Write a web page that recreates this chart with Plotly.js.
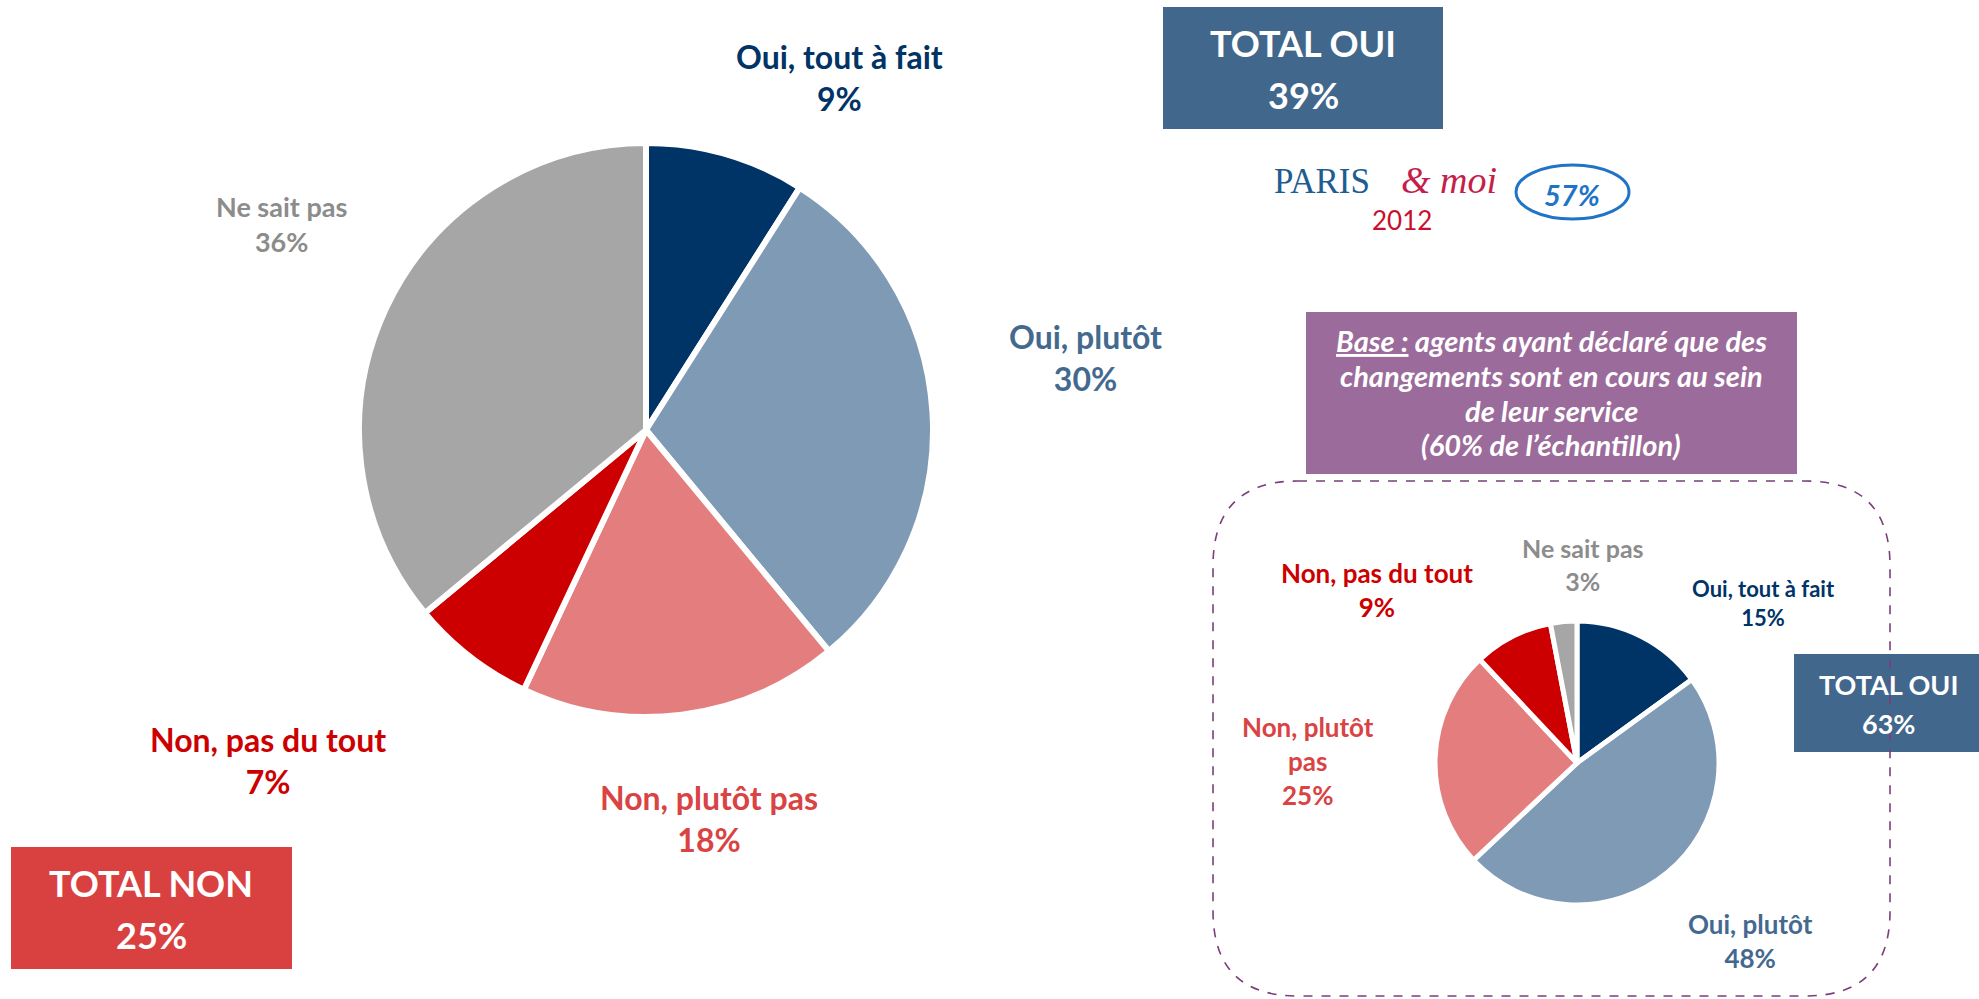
<!DOCTYPE html>
<html><head><meta charset="utf-8">
<script src="https://cdn.plot.ly/plotly-3.0.1.min.js"></script>
<style>html,body{margin:0;padding:0;background:#fff;overflow:hidden}#chart{width:1979px;height:999px}</style>
</head><body><div id="chart"></div>
<script>
// ---------- DATA ----------
const categories = ["Oui, tout à fait", "Oui, plutôt", "Non, plutôt pas", "Non, pas du tout", "Ne sait pas"];
const valuesAll = [9, 30, 18, 7, 36];          // ensemble des agents
const valuesBase = [15, 48, 25, 9, 3];         // agents ayant déclaré des changements
const totalOuiAll = 39;
const totalNonAll = 25;
const totalOuiBase = 63;
const parisMoi2012 = 57;
const baseShare = 60;

// ---------- STYLE / LAYOUT ----------
const W = 1979, H = 999;
const sliceColors = ["#003366", "#7f9ab4", "#e47e7e", "#cc0000", "#a6a6a6"];
const labelColors = ["#003366", "#44698f", "#d94343", "#cc0000", "#8c8c8c"];
const FONT = "Lato, 'Open Sans', sans-serif";
const px = x => x / W;
const py = y => 1 - y / H;

function domainFor(cx, cy, r) {
  return { x: [px(cx - r), px(cx + r)], y: [py(cy + r), py(cy - r)] };
}

// label anchor positions (pixels) and font sizes
const mainLabelPos = [[839, 77, 32], [1085, 357, 32], [709, 818, 32], [268, 760, 32], [281, 224, 27]];
const baseLabelPos = [[1763, 603, 22], [1750, 941, 26], [1308, 761, 26], [1377, 590, 26], [1583, 564, 25]];
const baseLabelText = ["Oui, tout à fait", "Oui, plutôt", "Non, plutôt<br>pas", "Non, pas du tout", "Ne sait pas"];

const traces = [
  {
    type: "pie", values: valuesAll, labels: categories, sort: false, direction: "clockwise", rotation: 0,
    marker: { colors: sliceColors, line: { color: "#ffffff", width: 6 } },
    textinfo: "none", hoverinfo: "label+percent", showlegend: false,
    domain: domainFor(646, 430, 287)
  },
  {
    type: "pie", values: valuesBase, labels: categories, sort: false, direction: "clockwise", rotation: 0,
    marker: { colors: sliceColors, line: { color: "#ffffff", width: 5 } },
    textinfo: "none", hoverinfo: "label+percent", showlegend: false,
    domain: domainFor(1577, 763, 142)
  }
];

const annotations = [];
function ann(x, y, text, size, color, family, yanchor) {
  annotations.push({
    xref: "paper", yref: "paper", x: px(x), y: py(y), xanchor: "center", yanchor: yanchor || "middle",
    text: text, showarrow: false, align: "center", borderpad: 0,
    font: { family: family || FONT, size: size, color: color }
  });
}

categories.forEach((c, i) => {
  const p = mainLabelPos[i];
  ann(p[0], p[1], "<b>" + c + "<br>" + valuesAll[i] + "%</b>", p[2], labelColors[i]);
  const q = baseLabelPos[i];
  ann(q[0], q[1], "<b>" + baseLabelText[i] + "<br>" + valuesBase[i] + "%</b>", q[2], labelColors[i]);
});

// Boxes text
ann(1303, 43, "<b>TOTAL OUI</b>", 36, "#ffffff");
ann(1303, 95, "<b>" + totalOuiAll + "%</b>", 36, "#ffffff");
ann(151, 883, "<b>TOTAL NON</b>", 36, "#ffffff");
ann(151, 935, "<b>" + totalNonAll + "%</b>", 36, "#ffffff");
ann(1888, 684, "<b>TOTAL OUI</b>", 27, "#ffffff");
ann(1888, 723, "<b>" + totalOuiBase + "%</b>", 27, "#ffffff");

// Purple base box text, one line each
const baseLines = [
  "<u>Base :</u> agents ayant déclaré que des",
  "changements sont en cours au sein",
  "de leur service",
  "(" + baseShare + "% de l’échantillon)"
];
const baseLineY = [340, 375, 410, 444];
baseLines.forEach((t, i) => ann(1551, baseLineY[i], "<i><b>" + t + "</b></i>", 29, "#ffffff"));

// Paris & moi logo
ann(1322, 202, "PARIS", 35, "#1d5d8f", "'Liberation Serif', serif", "bottom");
ann(1449, 202, "<i>&amp; moi</i>", 38, "#c41e4a", "'Liberation Serif', serif", "bottom");
ann(1402, 203, "2012", 26, "#c8102e", "Lato, sans-serif", "top");
ann(1572, 194, "<i><b>" + parisMoi2012 + "%</b></i>", 29, "#1f74c6");

// Shapes
const shapes = [];
function rect(x0, y0, x1, y1, fill) {
  shapes.push({ type: "rect", xref: "paper", yref: "paper", x0: px(x0), x1: px(x1), y0: py(y1), y1: py(y0),
    fillcolor: fill, line: { width: 0 }, layer: "below" });
}
rect(1163, 7, 1443, 129, "#42678c");
rect(11, 847, 292, 969, "#d94141");
rect(1306, 312, 1797, 474, "#9b6b9b");
rect(1794, 654, 1979, 752, "#42678c");

// ellipse around 57%
shapes.push({ type: "circle", xref: "paper", yref: "paper", x0: px(1516), x1: px(1629), y0: py(219), y1: py(165),
  line: { color: "#1f74c6", width: 3 }, fillcolor: "rgba(0,0,0,0)" });

// dashed rounded rectangle
(function () {
  const x0 = 1213, y0 = 481, x1 = 1890, y1 = 996, r = 85;
  const P = (x, y) => px(x).toFixed(5) + "," + py(y).toFixed(5);
  const path = "M" + P(x0 + r, y0) + " L" + P(x1 - r, y0) + " Q" + P(x1, y0) + " " + P(x1, y0 + r) +
    " L" + P(x1, y1 - r) + " Q" + P(x1, y1) + " " + P(x1 - r, y1) +
    " L" + P(x0 + r, y1) + " Q" + P(x0, y1) + " " + P(x0, y1 - r) +
    " L" + P(x0, y0 + r) + " Q" + P(x0, y0) + " " + P(x0 + r, y0) + " Z";
  shapes.push({ type: "path", xref: "paper", yref: "paper", path: path,
    line: { color: "#7a3f7a", width: 1.6, dash: "dash" }, fillcolor: "rgba(0,0,0,0)", layer: "above" });
})();

const layout = {
  width: W, height: H, margin: { l: 0, r: 0, t: 0, b: 0 },
  paper_bgcolor: "#ffffff", plot_bgcolor: "#ffffff",
  showlegend: false, annotations: annotations, shapes: shapes,
  font: { family: FONT }
};

Plotly.newPlot("chart", traces, layout, { displayModeBar: false, staticPlot: true });
</script>
</body></html>
